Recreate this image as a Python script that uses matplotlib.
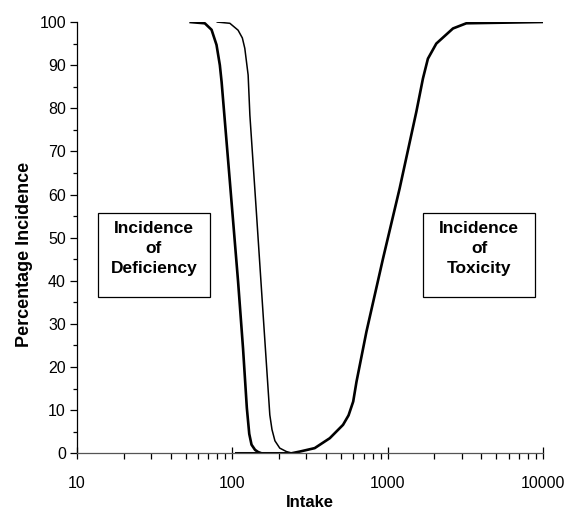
import matplotlib.pyplot as plt
from matplotlib.patches import Rectangle

plt.rcParams['font.family'] = ['Liberation Sans', 'DejaVu Sans']

# deficiency curve (thick)
def_x = [52.9, 66.5, 73.5, 79.1, 83.1, 85.3, 96.4, 108.9, 117.2, 124, 128.5, 132.9, 140, 146.5, 154]
def_y = [100, 99.7, 98.2, 94.7, 90.0, 86.1, 63.0, 39.8, 24.3, 10.5, 4.5, 2.0, 0.8, 0.3, 0]

# second deficiency curve (thin)
thin_x = [79.1, 96.4, 108.9, 116, 120.3, 126.4, 129.7, 143.2, 157.9, 174.3, 180, 188, 202, 223, 245]
thin_y = [100, 99.7, 98.1, 96.3, 93.9, 87.7, 78.4, 55.3, 32.1, 8.9, 5.5, 2.9, 1.2, 0.4, 0]

# toxicity curve (thick)
tox_x = [104, 240, 271.7, 339, 424, 516, 560, 600, 630, 730, 934, 1194, 1530, 1687, 1816, 2057, 2633, 3208, 10000]
tox_y = [0, 0, 0.4, 1.2, 3.5, 6.6, 8.8, 12.0, 16.6, 28.2, 45.2, 61.4, 79.2, 86.9, 91.5, 95.0, 98.5, 99.7, 100]

fig = plt.figure(figsize=(5.7, 5.19), dpi=100)
ax = fig.add_axes([77 / 570, 65.7 / 519, 466 / 570, 431.3 / 519])

ax.plot(def_x, def_y, color='black', lw=1.9, solid_capstyle='butt', solid_joinstyle='round')
ax.plot(thin_x, thin_y, color='black', lw=1.1, solid_capstyle='butt', solid_joinstyle='round')
ax.plot(tox_x, tox_y, color='black', lw=1.9, solid_capstyle='butt', solid_joinstyle='round')

ax.set_xscale('log')
ax.set_xlim(10, 10000)
ax.set_ylim(0, 100)
ax.set_yticks(range(0, 101, 10))
ax.set_yticks(range(5, 100, 10), minor=True)
ax.set_xticks([10, 100, 1000, 10000])
ax.set_xticklabels(['10', '100', '1000', '10000'])

for s in ['top', 'right']:
    ax.spines[s].set_visible(False)
ax.spines['left'].set_linewidth(0.9)
ax.spines['bottom'].set_linewidth(0.9)
ax.spines['bottom'].set_color('#555555')

ax.tick_params(axis='y', which='major', direction='out', length=5, width=0.9, labelsize=11.5, pad=3)
ax.tick_params(axis='y', which='minor', direction='out', length=3, width=0.9)
ax.tick_params(axis='x', which='major', direction='inout', length=8, width=0.9, labelsize=11.5, pad=12)
ax.tick_params(axis='x', which='minor', direction='out', length=4, width=0.9)

ax.set_xlabel('Intake', fontsize=12, fontweight='bold', labelpad=3)
ax.set_ylabel('Percentage Incidence', fontsize=13, fontweight='bold')
ax.yaxis.set_label_coords(-0.095, 0.46)

boxes = [((0.0457, 0.363), 0.239, 'Incidence\nof\nDeficiency'),
         ((0.743, 0.363), 0.240, 'Incidence\nof\nToxicity')]
for (x0, y0), w, label in boxes:
    ax.add_patch(Rectangle((x0, y0), w, 0.195, transform=ax.transAxes,
                           facecolor='white', edgecolor='black', lw=0.9))
    ax.text(x0 + w / 2, y0 + 0.195 / 2 + 0.015, label, transform=ax.transAxes,
            ha='center', va='center', fontsize=12.5, fontweight='bold', linespacing=1.42)

fig.savefig('out.png', dpi=100)
